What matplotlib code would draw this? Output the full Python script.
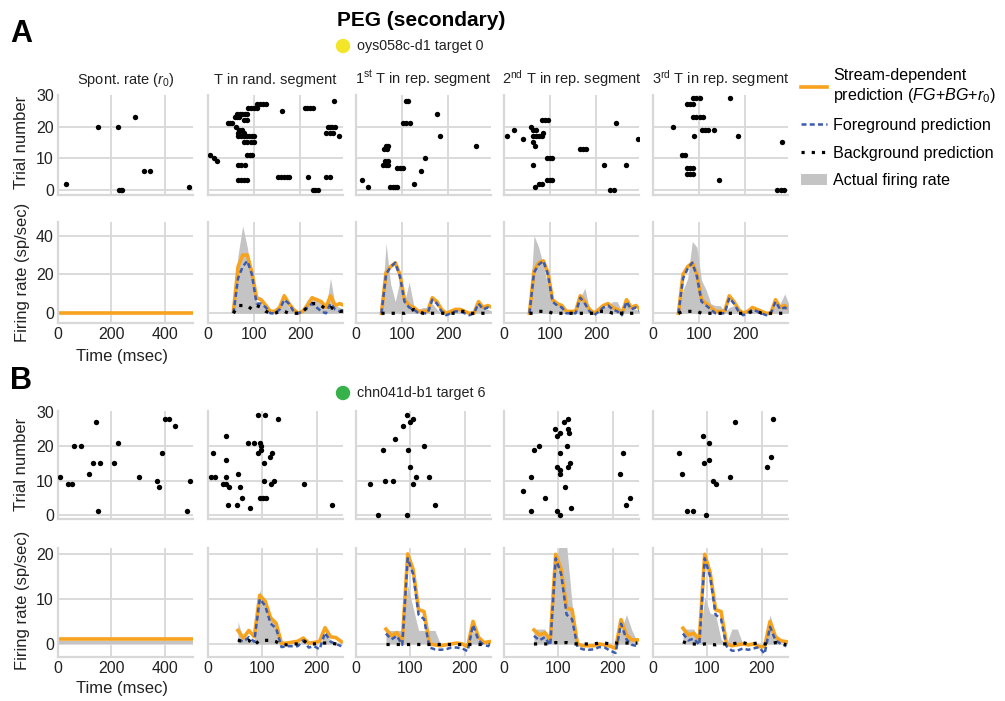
import matplotlib
matplotlib.use('Agg')
import matplotlib.pyplot as plt
from matplotlib.lines import Line2D
from matplotlib.patches import Patch, Ellipse

plt.rcParams.update({
    'font.family': 'Liberation Sans',
    'mathtext.fontset': 'custom',
    'mathtext.rm': 'Liberation Sans',
    'mathtext.it': 'Liberation Sans:italic',
    'font.size': 11,
})

ORANGE = '#F8A31E'
BLUE = '#3A5BAF'
FILL = '#C4C4C4'
GRID = '#D8D8D8'
TXT = '#222222'

# --- column titles ---
col_titles = ['Spont. rate ($r_0$)', 'T in rand. segment',
              '1$^{\\rm st}$ T in rep. segment',
              '2$^{\\rm nd}$ T in rep. segment',
              '3$^{\\rm rd}$ T in rep. segment']

# --- panel A rasters (spike time in ms, trial) ---
a_spont_t = [31, 151, 223, 228, 234, 241, 288, 321, 346, 489]
a_spont_trial = [2, 20, 20, 0, 0, 0, 23, 6, 6, 1]

a_rand_t = [4, 12, 20, 44, 48, 52, 58, 63, 67, 63, 69, 74, 80, 85, 78, 85, 61,
            67, 74, 65, 72, 78, 65, 71, 77, 83, 89, 95, 100, 78, 85, 92, 100,
            85, 91, 96, 65, 72, 80, 65, 72, 78, 85, 87, 93, 100, 106,
            107, 113, 120, 126, 160, 152, 158, 164, 170, 176,
            209, 215, 221, 227, 217, 227, 232, 238, 256, 263,
            259, 264, 269, 274, 256, 263, 270, 272, 284]
a_rand_trial = [11, 10, 9, 21, 21, 21, 23, 23, 23, 24, 24, 24, 24, 24, 22, 22, 20,
                19, 19, 18, 18, 18, 17, 17, 17, 17, 17, 17, 17, 15, 15, 15, 15,
                11, 11, 11, 8, 8, 8, 3, 3, 3, 3, 26, 26, 26, 26,
                27, 27, 27, 27, 25, 4, 4, 4, 4, 4,
                26, 26, 26, 26, 4, 0, 0, 0, 4, 4,
                20, 20, 20, 20, 18, 18, 18, 28, 17]

a_rep1_t = [12, 27, 59, 64, 70, 63, 70, 60, 66, 64, 70, 74, 79, 84, 89,
            89, 95, 102, 102, 109, 117, 108, 113, 126, 141, 150, 175, 182, 259]
a_rep1_trial = [3, 1, 8, 8, 8, 9, 9, 13, 13, 14, 14, 1, 1, 1, 1,
                7, 7, 7, 21, 21, 21, 28, 28, 2, 6, 10, 24, 17, 14]

a_rep2_t = [6, 22, 42, 58, 63, 70, 63, 69, 76, 82, 85, 63, 67, 82, 89, 96,
            93, 99, 104, 63, 67, 75, 82, 93, 99, 104, 165, 171, 178,
            216, 230, 237, 243, 263, 290]
a_rep2_trial = [17, 19, 16, 20, 19, 19, 17, 17, 17, 17, 18, 15, 14, 22, 22, 22,
                10, 10, 10, 8, 1, 2, 2, 3, 3, 3, 13, 13, 13,
                8, 0, 0, 21, 8, 16]

a_rep3_t = [43, 62, 70, 73, 80, 87, 73, 80, 87, 73, 80, 87, 87, 94, 102, 89,
            87, 94, 102, 109, 106, 113, 120, 131, 142, 167, 183, 278, 269, 276, 283]
a_rep3_trial = [20, 11, 11, 7, 7, 7, 5, 5, 5, 27, 27, 27, 29, 29, 29, 17,
                23, 23, 23, 23, 19, 19, 19, 19, 3, 29, 17, 15, 0, 0, 0]

# --- panel B rasters ---
b_spont_t = [9, 37, 53, 59, 87, 116, 131, 141, 156, 151, 211, 223, 303, 370,
             376, 388, 402, 415, 438, 483, 493]
b_spont_trial = [11, 9, 9, 20, 20, 12, 15, 27, 15, 1, 15, 21, 11, 10,
                 8, 18, 28, 28, 26, 1, 10]

b_rand_t = [6, 12, 10, 33, 33, 33, 28, 33, 38, 36, 54, 56, 58, 63, 78, 74, 85,
            92, 104, 95, 97, 98, 92, 95, 101, 106, 103, 102, 113, 118, 115,
            122, 129, 177, 228]
b_rand_trial = [11, 11, 18, 23, 16, 11, 9, 9, 8, 3, 3, 12, 8, 5, 2, 21, 21,
                29, 29, 21, 20, 19, 18, 5, 5, 5, 15, 10, 17, 18, 9,
                10, 28, 9, 3]

b_rep1_t = [26, 41, 50, 53, 68, 72, 86, 94, 96, 94, 99, 105, 100, 105, 110, 124, 135, 145]
b_rep1_trial = [9, 0, 19, 10, 10, 22, 26, 29, 19, 0, 27, 28, 14, 9, 11, 20, 11, 3]

b_rep2_t = [34, 49, 49, 56, 64, 76, 94, 97, 103, 102, 97, 102, 102, 97, 102,
            112, 111, 117, 118, 119, 115, 122, 118, 123, 219, 213, 225, 232]
b_rep2_trial = [7, 11, 1, 19, 20, 5, 25, 23, 24, 18, 14, 13, 12, 1, 0,
                8, 27, 28, 25, 24, 20, 15, 14, 2, 18, 12, 3, 5]

b_rep3_t = [48, 54, 63, 73, 92, 103, 94, 103, 97, 110, 116, 141, 151, 210, 216, 220]
b_rep3_trial = [18, 12, 1, 1, 23, 21, 15, 16, 0, 10, 9, 11, 27, 14, 17, 28]

# --- firing rates (sp/sec) ---
spont_t = [0, 505]
a_spont_actual = [0.3, 0.3]
a_spont_full = [0.3, 0.3]
b_spont_actual = [0.6, 0.6]
b_spont_full = [1.0, 1.0]

t_a = [55, 65, 75, 85, 95, 105, 115, 125, 135, 145, 155, 165, 175, 185, 195,
       205, 215, 225, 235, 245, 255, 265, 275, 285, 295]

a_rand_actual = [2, 30, 45, 34, 18, 6, 5, 4, 1, 1, 3, 7, 3, 1, 0, 3, 7, 9, 8, 5, 2, 18, 4, 3, 2]
a_rand_full = [1, 24, 30, 30, 21, 8, 7, 4, 1, 1, 3, 9, 5, 2, 0, 1, 4, 8, 7, 6, 3, 9, 4, 5, 4]
a_rand_fg = [0, 18, 24, 27, 20, 5, 5, 3, 0, 0, 2, 7, 5, 1, 0, 1, 3, 5, 3, 1, 0, 5, 2, 1, 2]
a_rand_bg = [0, 4, 4, 4, 2, 4, 3, 1, 0, 0, 1, 1, 0, 0, 0, 1, 3, 5, 5, 4, 2, 3, 2, 1, 1]

a_rep1_actual = [0, 36, 15, 6, 17, 6, 16, 4, 2, 3, 3, 5, 2, 0, 0, 1, 1, 2, 2, 0, 0, 4, 3, 2, 1]
a_rep1_full = [0, 21, 24, 26, 20, 7, 4, 3, 1, 1, 1, 8, 6, 2, 0, 1, 2, 2, 1, 0, 0, 6, 3, 4, 3]
a_rep1_fg = [0, 20, 24, 26, 19, 6, 3, 2, 0, 0, 0, 7, 5, 1, -1, 0, 1, 1, 0, -1, 0, 5, 2, 3, 2]
a_rep1_bg = [0, 0, 0, 0, 0, 0, 1, 2, 1, 0, 0, 0, 0, 0, 0, 0, 0, 1, 1, 0, 0, 0, 0, 0, 0]

a_rep2_actual = [2, 40, 34, 25, 14, 6, 5, 3, 1, 1, 3, 8, 13, 2, 0, 1, 3, 4, 6, 6, 1, 5, 3, 2, 1]
a_rep2_full = [0, 22, 26, 27, 21, 7, 5, 4, 1, 1, 1, 9, 6, 2, 0, 2, 4, 5, 3, 2, 0, 7, 3, 4, 2]
a_rep2_fg = [0, 21, 25, 27, 20, 6, 4, 3, 0, 0, 0, 8, 5, 1, -1, 1, 3, 4, 2, 1, -1, 6, 2, 3, 1]
a_rep2_bg = [0, 0, 1, 1, 1, 0, 0, 0, 0, 0, 0, 0, 0, 0, 0, 1, 1, 1, 0, 0, 0, 0, 0, 0, 0]

a_rep3_actual = [2, 12, 18, 37, 34, 17, 12, 5, 4, 4, 1, 3, 4, 1, 0, 1, 2, 2, 1, 0, 1, 4, 5, 10, 4]
a_rep3_full = [0, 20, 24, 26, 20, 7, 5, 3, 1, 1, 1, 9, 6, 2, 0, 1, 3, 2, 1, 0, 0, 7, 3, 4, 2]
a_rep3_fg = [0, 18, 23, 26, 19, 6, 4, 2, 0, 0, 0, 8, 5, 1, -1, 0, 2, 1, 0, -1, 0, 6, 2, 3, 1]
a_rep3_bg = [0, 1, 1, 1, 1, 0, 0, 0, 0, 0, 0, 0, 0, 0, 0, 0, 1, 1, 0, 0, 0, 0, 0, 0, 0]

t_b = [55, 65, 75, 85, 95, 105, 115, 125, 135, 145, 155, 165, 175, 185, 195,
       205, 215, 225, 235, 245]

b_rand_actual = [5, 1, 1, 1, 12, 8, 6, 4, 0, 0, 0, 0, 1, 0, 0, 0, 2, 1, 0, 0]
b_rand_full = [3.0, 1.3, 3.0, 1.6, 10.8, 9.5, 5.8, 4.6, 0.1, 0.2, 0.4, 0.6, 1.3, 0.2, 0.3, 0.6, 3.6, 1.6, 1.4, 0.5]
b_rand_fg = [1.0, 0.5, 1.5, 0.5, 10.0, 8.5, 4.5, 3.5, -0.7, -0.5, -0.5, -0.5, 0.8, -0.8, -0.5, -1.2, 2.5, 0.5, 0.0, -0.5]
b_rand_bg = [0.8, 0.5, 0.8, -0.2, 0.8, 0.8, 0.8, 0.5, -0.2, -0.2, 0.0, 0.0, 0.8, 0.0, 0.0, 0.2, 0.2, 0.2, 0.0, -0.2]

b_rep1_actual = [3, 3, 3, 3, 13, 8, 3, 3, 3, 3, 0, 0, 0, 0, 0, 0, 3, 1, 0, 0]
b_rep1_full = [3.3, 1.8, 2.5, 0.5, 20.0, 16.5, 7.6, 7.2, 0.0, -0.2, -0.4, -0.2, 0.0, 0.2, 0.0, -0.6, 5.0, 1.5, 0.3, 0.5]
b_rep1_fg = [2.3, 1.0, 1.8, -0.2, 19.0, 15.5, 6.5, 5.5, -0.8, -1.2, -1.3, -1.2, -0.8, -0.8, -1.0, -1.6, 4.2, 0.8, -0.3, -0.5]
b_rep1_bg = [0, 0, 0, 0, 0, 0, 0, 0, 0, 0, 0, 0, 0, 0, 0, 0, 0, 0, 0, 0]

b_rep2_actual = [3.3, 3.3, 3.3, 0.5, 18, 24, 22, 9, 0, 0, 0, 0, 0, 0, 0, 0, 3, 6.5, 3, 0.5]
b_rep2_full = [3.1, 2.0, 2.5, 0.9, 19.9, 16.5, 8.0, 7.6, 0.0, -0.4, -0.4, -0.4, 0.0, -0.2, -0.5, -1.0, 5.4, 2.0, 0.9, 0.9]
b_rep2_fg = [1.8, 0.8, 1.5, -0.3, 19.0, 15.5, 6.5, 5.5, -0.7, -1.2, -1.3, -1.2, -0.7, -0.8, -1.5, -2.0, 4.5, 1.0, -0.2, -0.5]
b_rep2_bg = [0, 0, 0, 0, 0.3, 0.3, 0.3, 0, 0, 0, 0, 0, 0.2, 0.2, 0, 0.2, 0.2, 0.2, 0.2, 0.2]

b_rep3_actual = [3.3, 3.3, 3.3, 0.2, 10.5, 6.8, 6.5, 1, 0, 3.3, 3.3, 0, 0, 0, 0, 0, 6.5, 2, 0, 0]
b_rep3_full = [3.5, 2.0, 2.4, 0.9, 19.9, 15.8, 7.6, 7.2, 0.0, -0.4, -0.2, 0.0, -0.2, 0.0, -0.6, -0.6, 5.0, 1.6, 0.7, 0.5]
b_rep3_fg = [2.3, 0.8, 1.2, -0.2, 19.0, 15.0, 6.5, 5.5, -0.5, -1.5, -1.5, -1.0, -1.3, -1.0, -0.7, -2.2, 3.8, 0.8, 0.0, -0.5]
b_rep3_bg = [0.5, 0, 0, -0.2, 0, -0.1, -0.2, 0, 0, 0, 0.2, 0.3, 0, 0.1, 0.2, 0, 0, 0.3, 0.2, -0.2]

# ---------------------------------------------------------------------------
W, H = 1005, 701
fig = plt.figure(figsize=(W / 100, H / 100), dpi=100)

COL_LEFT = [58, 208, 356, 504, 653]
COL_W = 135


def px_axes(left, top, bottom, width=COL_W):
    return fig.add_axes([left / W, 1 - bottom / H, width / W, (bottom - top) / H])


def style(ax):
    for s in ['top', 'right']:
        ax.spines[s].set_visible(False)
    for s in ['left', 'bottom']:
        ax.spines[s].set_color(GRID)
        ax.spines[s].set_linewidth(1.6)
    ax.grid(True, color=GRID, lw=1.3)
    ax.set_axisbelow(True)
    ax.tick_params(length=0, pad=3, labelsize=11.5, colors=TXT)


def raster(ax, t, trial, xmax, xt, first):
    style(ax)
    ax.scatter(t, trial, s=15, c='black', linewidths=0, zorder=3)
    ax.set_xlim(0, xmax)
    ax.set_xticks(xt)
    ax.set_yticks([0, 10, 20, 30])
    ax.tick_params(labelbottom=False, labelleft=first)
    ax.get_ygridlines()[-1].set_visible(False)


def psth(ax, t, actual, full, fg, bg, xmax, xt, ylim, yt, first):
    style(ax)
    ax.fill_between(t, 0, actual, color=FILL, lw=0, zorder=1)
    ax.plot(t, full, color=ORANGE, lw=2.6, zorder=2)
    if fg is not None:
        ax.plot(t, fg, color=BLUE, lw=1.8, ls=(0, (2, 1.3)), zorder=3)
        ax.plot(t, bg, color='black', lw=2.3, ls=(0, (1, 2.2)), zorder=4)
    ax.set_xlim(0, xmax)
    ax.set_ylim(*ylim)
    ax.set_xticks(xt)
    ax.set_yticks(yt)
    ax.tick_params(labelleft=first)


rows = [
    dict(raster_tb=(95, 195), psth_tb=(222, 323), rlim=(-1.6, 30), plim=(-5, 47),
         pyt=[0, 20, 40], xmax=292, t=t_a,
         spikes=[(a_spont_t, a_spont_trial), (a_rand_t, a_rand_trial),
                 (a_rep1_t, a_rep1_trial), (a_rep2_t, a_rep2_trial),
                 (a_rep3_t, a_rep3_trial)],
         spont=(a_spont_actual, a_spont_full),
         rates=[(a_rand_actual, a_rand_full, a_rand_fg, a_rand_bg),
                (a_rep1_actual, a_rep1_full, a_rep1_fg, a_rep1_bg),
                (a_rep2_actual, a_rep2_full, a_rep2_fg, a_rep2_bg),
                (a_rep3_actual, a_rep3_full, a_rep3_fg, a_rep3_bg)]),
    dict(raster_tb=(411, 519), psth_tb=(548, 657), rlim=(-1.2, 30.3), plim=(-2.9, 21.3),
         pyt=[0, 10, 20], xmax=248, t=t_b,
         spikes=[(b_spont_t, b_spont_trial), (b_rand_t, b_rand_trial),
                 (b_rep1_t, b_rep1_trial), (b_rep2_t, b_rep2_trial),
                 (b_rep3_t, b_rep3_trial)],
         spont=(b_spont_actual, b_spont_full),
         rates=[(b_rand_actual, b_rand_full, b_rand_fg, b_rand_bg),
                (b_rep1_actual, b_rep1_full, b_rep1_fg, b_rep1_bg),
                (b_rep2_actual, b_rep2_full, b_rep2_fg, b_rep2_bg),
                (b_rep3_actual, b_rep3_full, b_rep3_fg, b_rep3_bg)]),
]

for r, row in enumerate(rows):
    for c in range(5):
        xmax = 505 if c == 0 else row['xmax']
        xt = [0, 200, 400] if c == 0 else [0, 100, 200]
        ax = px_axes(COL_LEFT[c], *row['raster_tb'])
        raster(ax, *row['spikes'][c], xmax, xt, c == 0)
        ax.set_ylim(*row['rlim'])
        if r == 0:
            ax.set_title(col_titles[c], fontsize=10.5, pad=8, color=TXT)
        ax2 = px_axes(COL_LEFT[c], *row['psth_tb'])
        if c == 0:
            psth(ax2, spont_t, row['spont'][0], row['spont'][1], None, None,
                 xmax, xt, row['plim'], row['pyt'], True)
        else:
            psth(ax2, row['t'], *row['rates'][c - 1], xmax, xt,
                 row['plim'], row['pyt'], False)

# --- axis labels ---
for yc in (142, 464):
    fig.text(22 / W, 1 - yc / H, 'Trial number', rotation=90, ha='center',
             va='center', fontsize=12, color=TXT)
for yc in (272, 600):
    fig.text(22 / W, 1 - yc / H, 'Firing rate (sp/sec)', rotation=90,
             ha='center', va='center', fontsize=12, color=TXT)
for yc in (357, 688):
    fig.text(122 / W, 1 - yc / H, 'Time (msec)', ha='center', va='center',
             fontsize=12, color=TXT)

# --- headers ---
fig.text(10 / W, 1 - 42 / H, 'A', fontsize=22, fontweight='bold', va='baseline')
fig.text(10 / W, 1 - 389 / H, 'B', fontsize=22, fontweight='bold', va='baseline')
fig.text(421 / W, 1 - 20 / H, 'PEG (secondary)', fontsize=15, fontweight='bold',
         ha='center', va='center')
fig.text(357 / W, 1 - 46 / H, 'oys058c-d1 target 0', fontsize=10.3,
         ha='left', va='center', color=TXT)
fig.text(357 / W, 1 - 393 / H, 'chn041d-b1 target 6', fontsize=10.3,
         ha='left', va='center', color=TXT)
fig.patches.append(Ellipse((343 / W, 1 - 46 / H), 13 / W, 13 / H,
                           transform=fig.transFigure, color='#F3E528', figure=fig))
fig.patches.append(Ellipse((343 / W, 1 - 393 / H), 13 / W, 13 / H,
                           transform=fig.transFigure, color='#37B24A', figure=fig))

# --- legend ---
handles = [Line2D([], [], color=ORANGE, lw=2.6),
           Line2D([], [], color=BLUE, lw=1.8, ls=(0, (2, 1.3))),
           Line2D([], [], color='black', lw=2.3, ls=(0, (1, 2.2))),
           Patch(facecolor=FILL, edgecolor='none')]
labels = ['Stream-dependent\nprediction ($FG$+$BG$+$r_0$)',
          'Foreground prediction', 'Background prediction', 'Actual firing rate']
fig.legend(handles, labels, loc='upper left', bbox_to_anchor=(801 / W, 1 - 68 / H),
           frameon=False, fontsize=11.6, handlelength=1.6, handletextpad=0.4,
           labelspacing=0.8, borderaxespad=0, borderpad=0)

fig.savefig('out.png', dpi=100)
